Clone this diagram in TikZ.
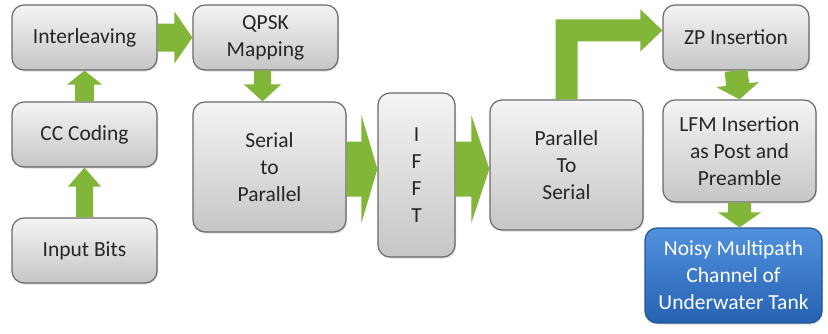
\documentclass[tikz,border=0pt]{standalone}
\usepackage{fontspec}
\setmainfont{Carlito}
\usetikzlibrary{calc,shadows}
\definecolor{garrowc}{RGB}{130,182,56}
\definecolor{boxline}{RGB}{105,105,105}
\definecolor{gtop}{RGB}{244,244,244}
\definecolor{gbot}{RGB}{198,198,198}
\definecolor{btop}{RGB}{80,145,222}
\definecolor{bbot}{RGB}{38,98,178}
\definecolor{bline}{RGB}{40,85,150}
\definecolor{txt}{RGB}{38,38,38}
\newcommand\garrow[5]{%
  \coordinate (gH) at ($(#2)!#5!(#1)$);
  \fill[garrowfill] ($(#1)!#3!90:(#2)$) -- ($(gH)!#3!90:(#2)$) -- ($(gH)!#4!90:(#2)$) -- (#2)
    -- ($(gH)!#4!-90:(#2)$) -- ($(gH)!#3!-90:(#2)$) -- ($(#1)!#3!-90:(#2)$) -- cycle;}
\tikzset{
  garrowfill/.style={fill=garrowc},
  boxbase/.style={rounded corners=12pt, line width=1.2pt, align=center, inner sep=0pt,
    font=\fontsize{21.5}{27}\selectfont,
    drop shadow={opacity=0.25, shadow xshift=1pt, shadow yshift=-1.5pt}},
  gbox/.style={boxbase, draw=boxline, top color=gtop, bottom color=gbot, text=txt},
  bbox/.style={boxbase, draw=bline, top color=btop, bottom color=bbot, text=white},
}
\begin{document}
\begin{tikzpicture}[x=1pt,y=-1pt]
\useasboundingbox (0,0) rectangle (828,333);
\node[gbox, minimum width=145pt, minimum height=65pt] (inter) at (84.5,37.5) {Interleaving};
\node[gbox, minimum width=145pt, minimum height=65pt] (cc) at (84.5,134.5) {CC Coding};
\node[gbox, minimum width=145pt, minimum height=65pt] (input) at (84.5,250.5) {Input Bits};
\node[gbox, minimum width=145pt, minimum height=65pt] (qpsk) at (265.5,37.5) {QPSK\\Mapping};
\node[gbox, minimum width=153pt, minimum height=130pt] (s2p) at (269.5,167) {Serial\\to\\Parallel};
\node[gbox, minimum width=77pt, minimum height=164pt] (ifft) at (416.5,175) {I\\F\\F\\T};
\node[gbox, minimum width=153pt, minimum height=130pt] (p2s) at (566.5,165) {Parallel\\To\\Serial};
\node[gbox, minimum width=146pt, minimum height=65pt] (zp) at (736,37.5) {ZP Insertion};
\node[gbox, minimum width=153pt, minimum height=102pt] (lfm) at (739.5,151) {LFM Insertion\\as Post and\\Preamble};
\node[bbox, minimum width=177pt, minimum height=95pt] (noisy) at (733.5,275.5) {Noisy Multipath\\Channel of\\Underwater Tank};

% arrows
\garrow{input.north}{cc.south}{8.5pt}{16.5pt}{19pt}
\garrow{cc.north}{inter.south}{9.5pt}{17.5pt}{14pt}
\garrow{inter.east}{qpsk.west}{14pt}{26pt}{18pt}
\coordinate (a4) at ($(qpsk.south)+(-3,0)$);
\coordinate (b4) at (a4 |- s2p.north);
\garrow{a4}{b4}{8.5pt}{18.5pt}{17pt}
\coordinate (a5) at ($(s2p.east)+(0,2)$);
\coordinate (b5) at (ifft.west |- a5);
\garrow{a5}{b5}{27.5pt}{54pt}{16pt}
\coordinate (a6) at (ifft.east |- a5);
\coordinate (b6) at (p2s.west |- a5);
\garrow{a6}{b6}{27.5pt}{54pt}{18pt}
\garrow{zp.south}{lfm.north}{11.5pt}{21.5pt}{15pt}
\coordinate (a9) at (lfm.south);
\coordinate (b9) at (a9 |- noisy.north);
\garrow{a9}{b9}{11.5pt}{21.5pt}{15pt}
% elbow arrow
\coordinate (ec) at ($(p2s.north)+(0,-69)$);
\coordinate (et) at (zp.west |- ec);
\coordinate (eH) at ($(et)+(-22,0)$);
\fill[garrowfill] ($(p2s.north)+(-11,0)$) -- ($(ec)+(-11,-11)$) -- ($(eH)+(0,-11)$) -- ($(eH)+(0,-21)$)
  -- (et) -- ($(eH)+(0,21)$) -- ($(eH)+(0,11)$) -- ($(ec)+(11,11)$) -- ($(p2s.north)+(11,0)$) -- cycle;
\end{tikzpicture}
\end{document}
